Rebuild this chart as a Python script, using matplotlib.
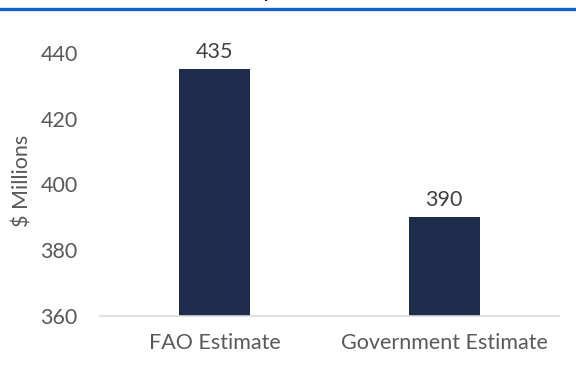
import matplotlib.pyplot as plt
from matplotlib.lines import Line2D

plt.rcParams['font.family'] = ['Lato', 'DejaVu Sans']

categories = ["FAO Estimate", "Government Estimate"]
values = [435, 390]
yticks = [360, 380, 400, 420, 440]

grey = "#595959"
bar_color = "#1f2d4d"

fig = plt.figure(figsize=(5.76, 3.89), dpi=100)
ax = fig.add_axes([100 / 576, 1 - 316 / 389, 459 / 576, (316 - 45) / 389])

x = range(len(categories))
bars = ax.bar(x, values, width=0.31, color=bar_color, zorder=2)
for b, v in zip(bars, values):
    ax.annotate(str(v), (b.get_x() + b.get_width() / 2, v), xytext=(0, 5),
                textcoords="offset points", ha="center", va="bottom",
                fontsize=15.5, color="#404040")

ax.set_xlim(-0.5, 1.5)
ax.set_ylim(360, 440 + 20 * (53 - 45) / 65.75)
ax.set_yticks(yticks)
ax.set_xticks(list(x))
ax.set_xticklabels(categories)
ax.tick_params(length=0, labelsize=15.5, labelcolor=grey)
ax.tick_params(axis="x", pad=12)
ax.tick_params(axis="y", pad=16)
for s in ["top", "right", "left"]:
    ax.spines[s].set_visible(False)
ax.spines["bottom"].set_color("#d9d9d9")
ax.spines["bottom"].set_linewidth(1.2)
ax.set_ylabel("$ Millions", fontsize=15.5, color=grey)
ax.yaxis.set_label_coords(-67 / 459, 0.5)

# blue rule under the clipped heading
fig.add_artist(Line2D([0, 1], [1 - 8.5 / 389] * 2, color="#1560cc", lw=2.4,
                      transform=fig.transFigure))
fig.text(267.5 / 576, 1 + 2 / 389, "y", ha="center", va="baseline",
         fontsize=12, fontweight="bold", color="black")

fig.savefig("out.png", dpi=100)
